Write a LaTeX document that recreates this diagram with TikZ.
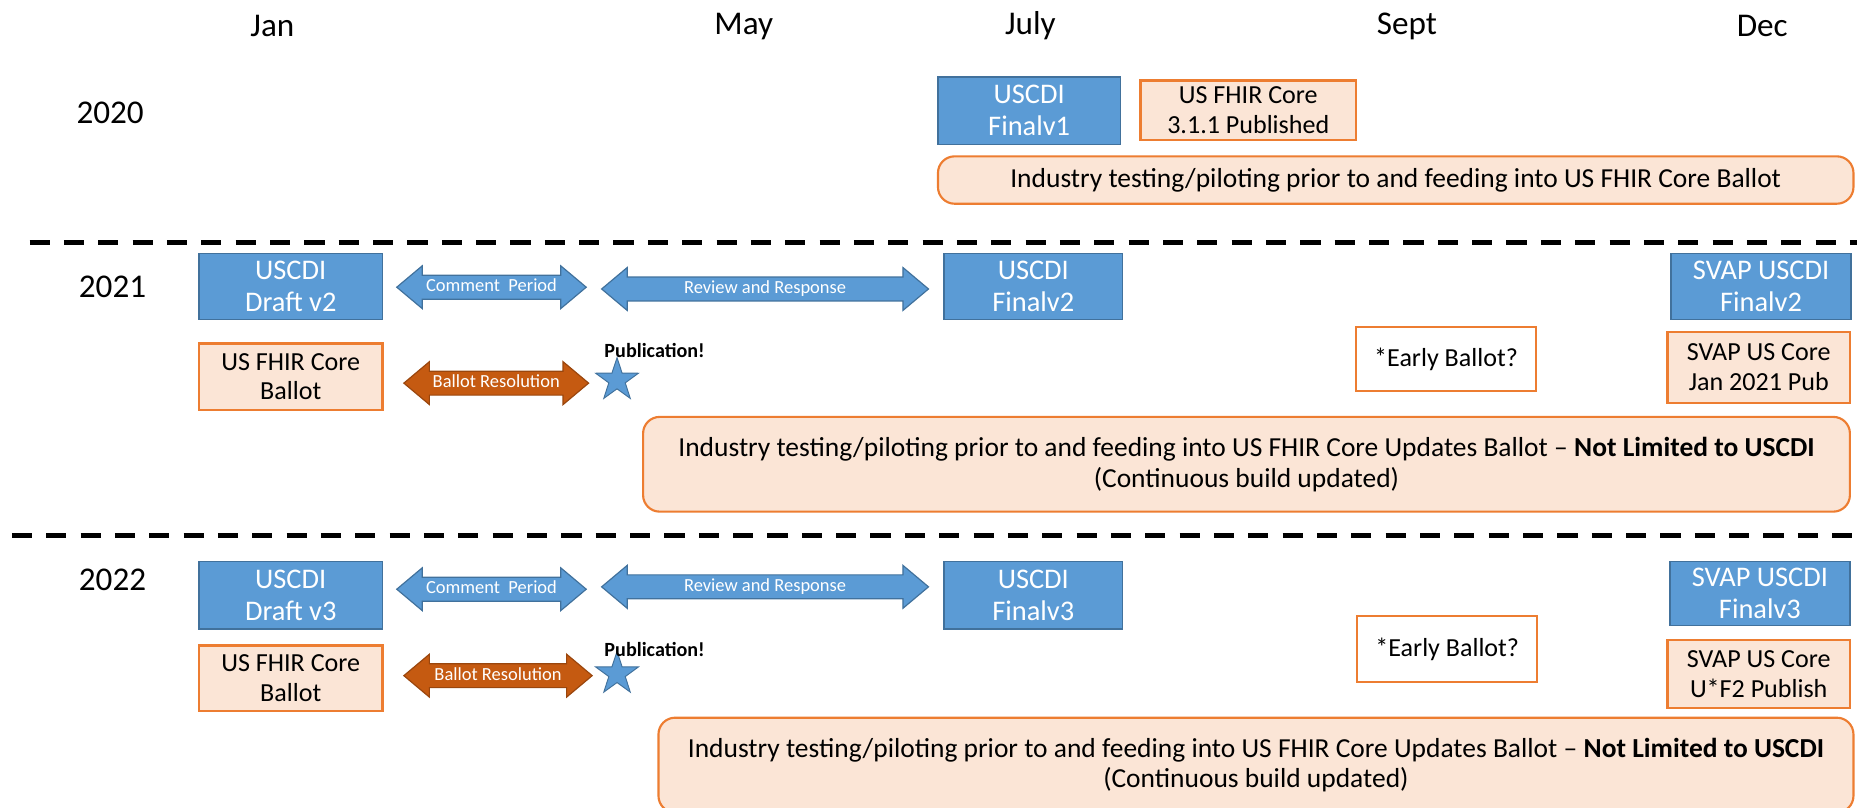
\documentclass[tikz,border=0pt]{standalone}
\usepackage{fontspec}
\setmainfont{Carlito}
\usepackage{tikz}
\usetikzlibrary{shapes.arrows, shapes.geometric, positioning}

\definecolor{uscdiblue}{HTML}{5B9BD5}
\definecolor{uscdiedge}{HTML}{41719C}
\definecolor{fhirorange}{HTML}{ED7D31}
\definecolor{fhirpeach}{HTML}{FBE5D6}
\definecolor{ballotbrown}{HTML}{C55A11}
\definecolor{ballotedge}{HTML}{9A460D}

\tikzset{
  uscdi/.style={draw=uscdiedge, fill=uscdiblue, text=white, line width=0.6pt, align=center, inner sep=0pt, font=\fontsize{12}{13.5}\selectfont},
  fhir/.style={draw=fhirorange, fill=fhirpeach, line width=0.9pt, align=center, inner sep=0pt, font=\fontsize{11}{12.5}\selectfont},
  early/.style={fhir, fill=white},
  testing/.style={fhir, rounded corners=7pt, font=\fontsize{11.6}{13}\selectfont},
  period/.style={double arrow, draw=uscdiedge, fill=uscdiblue, text=white, line width=0.5pt, inner sep=1.2pt, double arrow head extend=4pt, double arrow tip angle=80, font=\fontsize{7.8}{8}\selectfont, text height=5.6pt, text depth=1.6pt},
  resolution/.style={period, draw=ballotedge, fill=ballotbrown},
  pubstar/.style={star, star points=5, star point ratio=2.6, draw=uscdiedge, fill=uscdiblue, minimum size=19pt, inner sep=0pt, line width=0.4pt},
  publabel/.style={anchor=west, inner sep=0pt, font=\bfseries\fontsize{8.5}{10}\selectfont},
  month/.style={font=\fontsize{14}{16}\selectfont},
  yearline/.style={line width=2.2pt, dash pattern=on 8.5pt off 6pt}
}

\begin{document}
\begin{tikzpicture}[x=0.5pt, y=-0.5pt]
\useasboundingbox (0,0) rectangle (1568,682);

% months and years
\node[month] (jan) at (230,22) {Jan};
\node[month] (may) at (628,22) {May};
\node[month] (jul) at (870,22) {July};
\node[month] (sep) at (1188,22) {Sept};
\node[month] (dec) at (1488,22) {Dec};
\node[month] (y20) at (93,95) {2020};
\node[month] (y21) at (95,242) {2021};
\node[month] (y22) at (95,490) {2022};

% 2020
\node[uscdi, minimum width=77pt, minimum height=28.5pt] (final1) at (869,93.5) {USCDI\\Finalv1};
\node[fhir, minimum width=91pt, minimum height=25pt] (core311) at (1054,93) {US FHIR Core\\3.1.1 Published};
\node[testing, minimum width=386.5pt, minimum height=20pt] (test20) at (1178.5,152) {Industry testing/piloting prior to and feeding into US FHIR Core Ballot};

\coordinate (cut1a) at (25,205);
\coordinate (cut1b) at (1568,205);
\draw[yearline] (cut1a) -- (cut1b);

% 2021
\node[uscdi, minimum width=77.5pt, minimum height=28pt] (draft2) at (245.5,242) {USCDI\\Draft v2};
\node[period, minimum height=80pt, minimum width=17.5pt] (comment21) at (415,242.5) {Comment\ \ Period};
\node[period, minimum height=138pt, minimum width=18pt] (review21) at (646,244) {Review and Response};
\node[uscdi, minimum width=75.5pt, minimum height=28pt] (final2) at (872.5,242) {USCDI\\Finalv2};
\node[uscdi, minimum width=76pt, minimum height=28pt] (svap2) at (1487,242) {SVAP USCDI\\Finalv2};
\node[fhir, minimum width=77.5pt, minimum height=28pt] (ballot21) at (245.5,318) {US FHIR Core\\Ballot};
\node[resolution, minimum height=78pt, minimum width=16.5pt] (resol21) at (419,323.5) {Ballot Resolution};
\node[pubstar] (star21) at (521,321) {};
\node[publabel] (pub21) at (510,296) {Publication!};
\node[early, minimum width=76pt, minimum height=27pt] (early21) at (1221,303) {*Early Ballot?};
\node[fhir, minimum width=77pt, minimum height=30pt] (svapcore21) at (1485,310) {SVAP US Core\\Jan 2021 Pub};
\node[testing, minimum width=509.5pt, minimum height=40pt] (test21) at (1052.5,392) {Industry testing/piloting prior to and feeding into US FHIR Core Updates Ballot – \textbf{Not Limited to USCDI}\\(Continuous build updated)};

\coordinate (cut2a) at (10,452);
\coordinate (cut2b) at (1568,452);
\draw[yearline] (cut2a) -- (cut2b);

% 2022
\node[uscdi, minimum width=77.5pt, minimum height=28.5pt] (draft3) at (245.5,502.5) {USCDI\\Draft v3};
\node[period, minimum height=80pt, minimum width=17.5pt] (comment22) at (415,497.5) {Comment\ \ Period};
\node[period, minimum height=138pt, minimum width=17.5pt] (review22) at (646,495.5) {Review and Response};
\node[uscdi, minimum width=75.5pt, minimum height=28.5pt] (final3) at (872.5,502.5) {USCDI\\Finalv3};
\node[uscdi, minimum width=76pt, minimum height=27pt] (svap3) at (1486,501) {SVAP USCDI\\Finalv3};
\node[fhir, minimum width=77.5pt, minimum height=27.5pt] (ballot22) at (245.5,572.5) {US FHIR Core\\Ballot};
\node[resolution, minimum height=79.5pt, minimum width=15pt] (resol22) at (420.5,570.5) {Ballot Resolution};
\node[pubstar] (star22) at (521,569) {};
\node[publabel] (pub22) at (510,548) {Publication!};
\node[early, minimum width=76pt, minimum height=28pt] (early22) at (1222,548) {*Early Ballot?};
\node[fhir, minimum width=77pt, minimum height=28.5pt] (svapcore22) at (1485,569) {SVAP US Core\\U*F2 Publish};
\node[testing, minimum width=504.5pt, minimum height=40pt] (test22) at (1060.5,646) {Industry testing/piloting prior to and feeding into US FHIR Core Updates Ballot – \textbf{Not Limited to USCDI}\\(Continuous build updated)};
\end{tikzpicture}
\end{document}
